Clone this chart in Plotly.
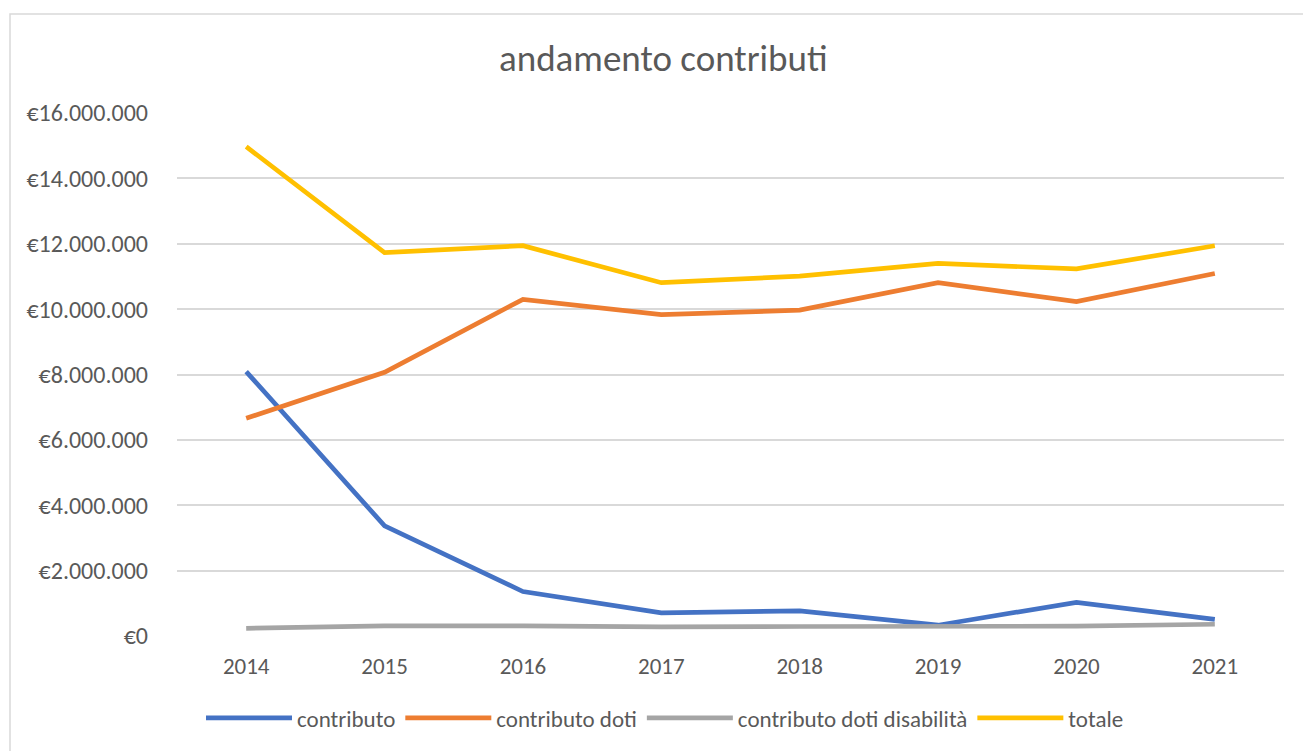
import plotly.graph_objects as go

years = ["2014", "2015", "2016", "2017", "2018", "2019", "2020", "2021"]
contributo = [8090000, 3370000, 1360000, 710000, 770000, 330000, 1030000, 510000]
contributo_doti = [6660000, 8070000, 10300000, 9830000, 9970000, 10810000, 10230000, 11090000]
contributo_doti_disabilita = [235000, 310000, 310000, 280000, 290000, 290000, 300000, 360000]
totale = [14970000, 11730000, 11940000, 10810000, 11010000, 11400000, 11230000, 11940000]

series_names = ["contributo", "contributo doti", "contributo doti disabilità", "totale"]
series_colors = ["#4472C4", "#ED7D31", "#A5A5A5", "#FFC000"]

y_tickvals = [0, 2000000, 4000000, 6000000, 8000000, 10000000, 12000000, 14000000, 16000000]
y_ticktext = ["€0", "€2.000.000", "€4.000.000", "€6.000.000", "€8.000.000",
              "€10.000.000", "€12.000.000", "€14.000.000", "€16.000.000"]

FONT = "Carlito, Lato, sans-serif"
TXT = "#595959"

fig = go.Figure()
for name, vals, col in zip(series_names,
                           [contributo, contributo_doti, contributo_doti_disabilita, totale],
                           series_colors):
    fig.add_trace(go.Scatter(x=list(range(len(years))), y=vals, name=name, mode="lines",
                             line=dict(color=col, width=4.7)))

W, H = 1303, 751
L, R, T, B = 177, 19, 113, 115
pw, ph = W - L - R, H - T - B

def px_x(p):
    return (p - L) / pw

def px_y(p):
    return (H - B - p) / ph

fig.update_layout(
    width=W, height=H,
    margin=dict(l=L, r=R, t=T, b=B),
    paper_bgcolor="white", plot_bgcolor="white",
    font=dict(family=FONT, color=TXT, size=24),
    showlegend=True,
    legend=dict(orientation="h", x=px_x(665), xanchor="center", y=px_y(718), yanchor="middle",
                font=dict(size=23, color=TXT), itemwidth=86, tracegroupgap=0),
    xaxis=dict(range=[-0.5, 7.5], tickvals=list(range(len(years))), ticktext=years,
               showgrid=False, zeroline=False, showline=False, ticks="",
               ticklabelstandoff=14, tickfont=dict(size=23, color=TXT)),
    yaxis=dict(range=[0, 16000000], tickvals=y_tickvals, ticktext=y_ticktext,
               showgrid=True, gridcolor="#D9D9D9", gridwidth=1.5, zeroline=False,
               showline=False, ticks="", ticklabelstandoff=28, tickfont=dict(size=24, color=TXT)),
    annotations=[dict(text="andamento contributi", xref="paper", yref="paper",
                      x=px_x(663), y=px_y(58), xanchor="center", yanchor="middle",
                      showarrow=False, font=dict(size=37, color=TXT, family=FONT))],
    shapes=[dict(type="rect", xref="paper", yref="paper",
                 x0=px_x(10), y0=px_y(770), x1=px_x(1320), y1=px_y(14),
                 line=dict(color="#D9D9D9", width=1.5), fillcolor="rgba(0,0,0,0)", layer="below")],
)

fig.write_html("out.html", config={"displayModeBar": False},
               post_script="document.body.style.margin='0';")
